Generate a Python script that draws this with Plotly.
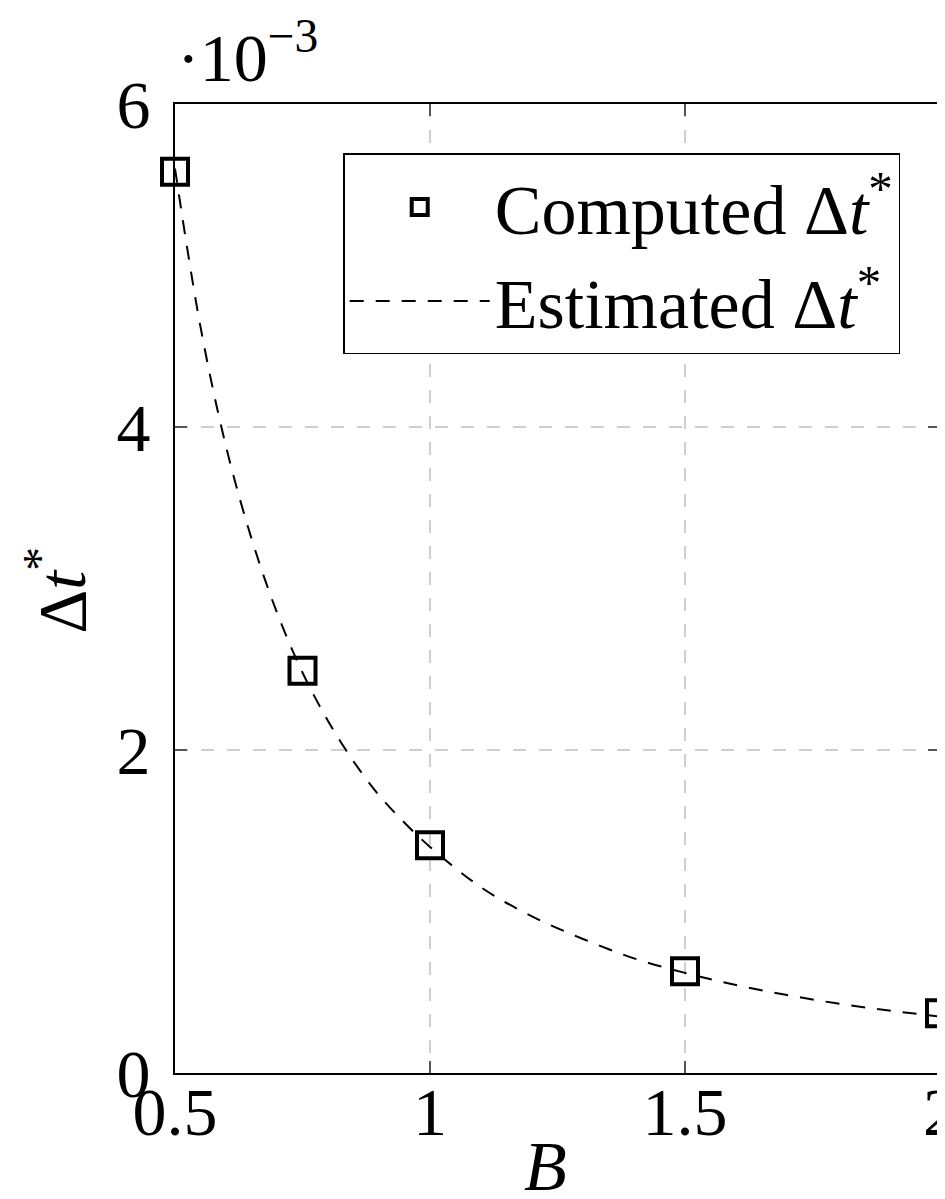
import plotly.graph_objects as go

# Computed points (B, Δt*)
B_computed = [0.5, 0.75, 1.0, 1.5, 2.0]
dt_computed = [5.58e-3, 2.49e-3, 1.41e-3, 0.63e-3, 0.37e-3]

# Estimated curve
B_estimated = [0.5, 0.55, 0.6, 0.65, 0.7, 0.75, 0.8, 0.85, 0.9, 0.95, 1.0,
               1.1, 1.2, 1.3, 1.4, 1.5, 1.6, 1.7, 1.8, 1.9, 2.0]
dt_estimated = [5.60e-3, 4.62e-3, 3.88e-3, 3.31e-3, 2.85e-3, 2.48e-3, 2.18e-3,
                1.93e-3, 1.72e-3, 1.55e-3, 1.40e-3, 1.15e-3, 0.97e-3, 0.83e-3,
                0.71e-3, 0.62e-3, 0.545e-3, 0.483e-3, 0.43e-3, 0.387e-3, 0.35e-3]

x_ticks = [0.5, 1.0, 1.5, 2.0]
x_ticktext = ["0.5", "1", "1.5", "2"]
y_ticks = [0, 2e-3, 4e-3, 6e-3]
y_ticktext = ["0", "2", "4", "6"]

FONT = "Liberation Serif"

fig = go.Figure()
fig.add_trace(go.Scatter(
    x=B_computed, y=dt_computed, mode="markers",
    name="Computed Δ<i>t</i><sup>*</sup>",
    marker=dict(symbol="square-open", size=26, color="black",
                line=dict(width=4, color="black")),
    cliponaxis=False,
))
fig.add_trace(go.Scatter(
    x=B_estimated, y=dt_estimated, mode="lines",
    name="Estimated Δ<i>t</i><sup>*</sup>",
    line=dict(color="black", width=2, dash="14px,12px", shape="spline"),
))

axis_common = dict(
    showline=True, linecolor="black", linewidth=2, mirror="ticks",
    ticks="inside", ticklen=12, tickcolor="#555", tickwidth=1.5,
    showgrid=True, gridcolor="#cfcfcf", gridwidth=1.5, griddash="13px,13px",
    zeroline=False, tickfont=dict(family=FONT, size=68, color="black"),
    ticklabeloverflow="allow", automargin=False,
)

fig.update_layout(
    width=937, height=1191,
    margin=dict(l=167, r=5, t=96, b=126),
    paper_bgcolor="white", plot_bgcolor="white",
    font=dict(family=FONT, color="black"),
    xaxis=dict(range=[0.5, 2.0], tickvals=x_ticks, ticktext=x_ticktext,
               ticklabelstandoff=-22, **axis_common),
    yaxis=dict(range=[0, 6e-3], tickvals=y_ticks, ticktext=y_ticktext,
               ticklabelstandoff=9, **axis_common),
    legend=dict(x=0.948, y=0.949, xanchor="right", yanchor="top",
                bordercolor="black", borderwidth=1.5, bgcolor="white",
                font=dict(family=FONT, size=70, color="black"),
                itemwidth=140),
    showlegend=True,
)

fig.add_annotation(xref="x domain", yref="y domain", x=0.5, y=0,
                   text="<i>B</i>", showarrow=False, xanchor="center",
                   yanchor="middle", yshift=-93, xshift=-12,
                   font=dict(family=FONT, size=70, color="black"))
fig.add_annotation(xref="paper", yref="y domain", x=0, y=0.5,
                   text="Δ<i>t</i><sup>*</sup>", showarrow=False, textangle=-90,
                   xanchor="center", yanchor="middle", xshift=-118, yshift=-2,
                   font=dict(family=FONT, size=68, color="black"))
fig.add_annotation(xref="paper", yref="paper", x=0, y=1,
                   text="·10<sup>−3</sup>", showarrow=False,
                   xanchor="left", yanchor="bottom", xshift=0, yshift=6,
                   font=dict(family=FONT, size=68, color="black"))

fig.write_html("out.html")
